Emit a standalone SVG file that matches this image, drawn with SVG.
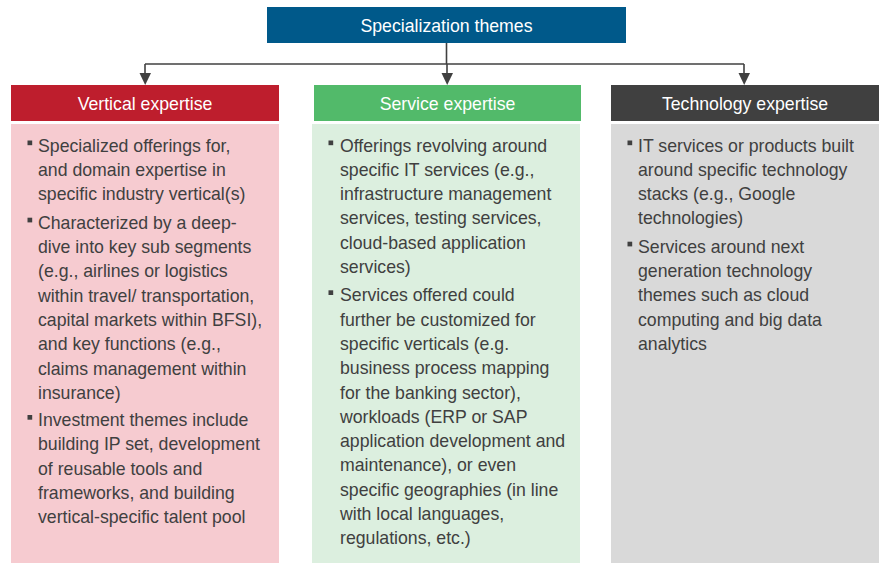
<svg xmlns="http://www.w3.org/2000/svg" width="879" height="563" viewBox="0 0 879 563">
  <style>
    .title { font-family: "Liberation Sans", Arial, sans-serif; font-size: 17.7px; fill: #ffffff; text-anchor: middle; }
    .body { font-family: "Liberation Sans", Arial, sans-serif; font-size: 17.7px; fill: #404040; }
    .bullet { fill: #404040; }
    .link { fill: none; stroke: #404040; stroke-width: 1.6; }
    .head { fill: #404040; }
  </style>
  <rect width="879" height="563" fill="#ffffff"/>

  <!-- connectors: trunk, bus and three drops with arrowheads -->
  <g id="connectors">
    <path class="link" d="M446.5,43 V64"/>
    <path class="link" d="M145,64 H744"/>
    <path class="link" d="M145,64 V75"/>
    <path class="link" d="M447,64 V75"/>
    <path class="link" d="M744,64 V75"/>
    <path class="head" d="M139.5,73 L151,73 L145.2,85 Z"/>
    <path class="head" d="M441.5,73 L453,73 L447.2,85 Z"/>
    <path class="head" d="M738.5,73 L750,73 L744.2,85 Z"/>
  </g>

  <!-- root -->
  <g id="specialization-themes">
    <rect x="267" y="7" width="359" height="36" fill="#00598A"/>
    <text class="title" x="446.5" y="31.5">Specialization themes</text>
  </g>

  <!-- vertical expertise -->
  <g id="vertical-expertise">
    <rect x="11" y="85" width="268" height="36" fill="#BE1E2D"/>
    <text class="title" x="145" y="109.5">Vertical expertise</text>
    <rect x="11" y="124" width="268" height="439" fill="#F6CBD0"/>
    <rect class="bullet" x="27.5" y="140.5" width="4.7" height="4.7"/>
    <rect class="bullet" x="27.5" y="217.7" width="4.7" height="4.7"/>
    <rect class="bullet" x="27.5" y="415" width="4.7" height="4.7"/>
    <text class="body">
      <tspan x="38" y="151.5">Specialized offerings for,</tspan>
      <tspan x="38" y="175.8">and domain expertise in</tspan>
      <tspan x="38" y="200.1">specific industry vertical(s)</tspan>
      <tspan x="38" y="228.7">Characterized by a deep-</tspan>
      <tspan x="38" y="253">dive into key sub segments</tspan>
      <tspan x="38" y="277.3">(e.g., airlines or logistics</tspan>
      <tspan x="38" y="301.6">within travel/ transportation,</tspan>
      <tspan x="38" y="325.9">capital markets within BFSI),</tspan>
      <tspan x="38" y="350.2">and key functions (e.g.,</tspan>
      <tspan x="38" y="374.5">claims management within</tspan>
      <tspan x="38" y="398.8">insurance)</tspan>
      <tspan x="38" y="426">Investment themes include</tspan>
      <tspan x="38" y="450.3">building IP set, development</tspan>
      <tspan x="38" y="474.6">of reusable tools and</tspan>
      <tspan x="38" y="498.9">frameworks, and building</tspan>
      <tspan x="38" y="523.2">vertical-specific talent pool</tspan>
    </text>
  </g>

  <!-- service expertise -->
  <g id="service-expertise">
    <rect x="314" y="85" width="267" height="36" fill="#52BA6A"/>
    <text class="title" x="447.5" y="109.5">Service expertise</text>
    <rect x="312" y="124" width="268" height="439" fill="#DCEFDF"/>
    <rect class="bullet" x="328.5" y="140.5" width="4.7" height="4.7"/>
    <rect class="bullet" x="328.5" y="290.3" width="4.7" height="4.7"/>
    <text class="body">
      <tspan x="340" y="151.5">Offerings revolving around</tspan>
      <tspan x="340" y="175.8">specific IT services (e.g.,</tspan>
      <tspan x="340" y="200.1">infrastructure management</tspan>
      <tspan x="340" y="224.4">services, testing services,</tspan>
      <tspan x="340" y="248.7">cloud-based application</tspan>
      <tspan x="340" y="273">services)</tspan>
      <tspan x="340" y="301.3">Services offered could</tspan>
      <tspan x="340" y="325.6">further be customized for</tspan>
      <tspan x="340" y="349.9">specific verticals (e.g.</tspan>
      <tspan x="340" y="374.2">business process mapping</tspan>
      <tspan x="340" y="398.5">for the banking sector),</tspan>
      <tspan x="340" y="422.8">workloads (ERP or SAP</tspan>
      <tspan x="340" y="447.1">application development and</tspan>
      <tspan x="340" y="471.4">maintenance), or even</tspan>
      <tspan x="340" y="495.7">specific geographies (in line</tspan>
      <tspan x="340" y="520">with local languages,</tspan>
      <tspan x="340" y="544.3">regulations, etc.)</tspan>
    </text>
  </g>

  <!-- technology expertise -->
  <g id="technology-expertise">
    <rect x="611" y="85" width="268" height="36" fill="#404040"/>
    <text class="title" x="745" y="109.5">Technology expertise</text>
    <rect x="611" y="124" width="268" height="439" fill="#D9D9D9"/>
    <rect class="bullet" x="627.5" y="140.5" width="4.7" height="4.7"/>
    <rect class="bullet" x="627.5" y="241.7" width="4.7" height="4.7"/>
    <text class="body">
      <tspan x="638" y="151.5">IT services or products built</tspan>
      <tspan x="638" y="175.8">around specific technology</tspan>
      <tspan x="638" y="200.1">stacks (e.g., Google</tspan>
      <tspan x="638" y="224.4">technologies)</tspan>
      <tspan x="638" y="252.7">Services around next</tspan>
      <tspan x="638" y="277">generation technology</tspan>
      <tspan x="638" y="301.3">themes such as cloud</tspan>
      <tspan x="638" y="325.6">computing and big data</tspan>
      <tspan x="638" y="349.9">analytics</tspan>
    </text>
  </g>
</svg>
